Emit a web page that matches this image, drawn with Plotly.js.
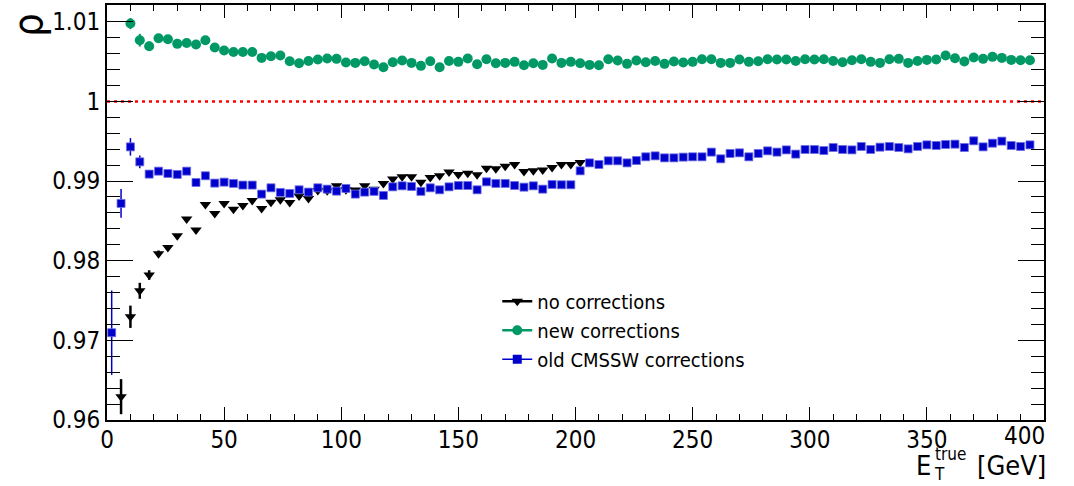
<!DOCTYPE html>
<html>
<head>
<meta charset="utf-8">
<script src="https://cdn.plot.ly/plotly-3.0.1.min.js"></script>
<style>
  html, body { margin: 0; padding: 0; background: #ffffff; }
  #chart { width: 1074px; height: 486px; }
</style>
</head>
<body>
<div id="chart"></div>
<script>
// Bin centres in E_T^true [GeV]
const binCenters = [
  2, 6, 10, 14, 18, 22, 26, 30, 34, 38, 42, 46, 50, 54, 58, 62, 66, 70, 74, 78,
  82, 86, 90, 94, 98, 102, 106, 110, 114, 118, 122, 126, 130, 134, 138, 142, 146, 150, 154, 158,
  162, 166, 170, 174, 178, 182, 186, 190, 194, 198, 202, 206, 210, 214, 218, 222, 226, 230, 234, 238,
  242, 246, 250, 254, 258, 262, 266, 270, 274, 278, 282, 286, 290, 294, 298, 302, 306, 310, 314, 318,
  322, 326, 330, 334, 338, 342, 346, 350, 354, 358, 362, 366, 370, 374, 378, 382, 386, 390, 394
];

// "no corrections" (starts at 6 GeV, ends at 202 GeV)
const noCorrX = binCenters.slice(1, 51);
const noCorr = [
  0.96293, 0.97296, 0.97622, 0.97820, 0.98088, 0.98167, 0.98313, 0.98522, 0.98384, 0.98706,
  0.98594, 0.98719, 0.98647, 0.98694, 0.98757, 0.98656, 0.98735, 0.98764, 0.98731, 0.98811,
  0.98782, 0.98880, 0.98877, 0.98940, 0.98890, 0.98886, 0.98940, 0.98898, 0.98970, 0.99024,
  0.99053, 0.99053, 0.98986, 0.99045, 0.99066, 0.99112, 0.99083, 0.99099, 0.99078, 0.99162,
  0.99153, 0.99187, 0.99208, 0.99120, 0.99128, 0.99137, 0.99170, 0.99208, 0.99208, 0.99233
];
const noCorrErr = [0.0022, 0.0014, 0.0010, 0.0006, 0.0004, 0.0003];

// "new corrections" (starts at 10 GeV)
const newCorrX = binCenters.slice(2);
const newCorr = [
  1.00977, 1.00768, 1.00693, 1.00793, 1.00780, 1.00722, 1.00734, 1.00714, 1.00768, 1.00676,
  1.00638, 1.00621, 1.00621, 1.00621, 1.00546, 1.00567, 1.00576, 1.00504, 1.00479, 1.00508,
  1.00525, 1.00538, 1.00534, 1.00488, 1.00483, 1.00504, 1.00463, 1.00429, 1.00492, 1.00513,
  1.00483, 1.00446, 1.00504, 1.00429, 1.00508, 1.00496, 1.00538, 1.00467, 1.00529, 1.00479,
  1.00483, 1.00496, 1.00454, 1.00479, 1.00458, 1.00538, 1.00483, 1.00496, 1.00479, 1.00458,
  1.00454, 1.00529, 1.00513, 1.00471, 1.00513, 1.00492, 1.00508, 1.00471, 1.00500, 1.00488,
  1.00496, 1.00529, 1.00529, 1.00483, 1.00483, 1.00525, 1.00496, 1.00504, 1.00529, 1.00525,
  1.00525, 1.00508, 1.00529, 1.00525, 1.00529, 1.00508, 1.00492, 1.00517, 1.00529, 1.00496,
  1.00483, 1.00529, 1.00534, 1.00483, 1.00508, 1.00521, 1.00525, 1.00576, 1.00542, 1.00500,
  1.00551, 1.00534, 1.00559, 1.00546, 1.00521, 1.00517, 1.00517
];
const newCorrErr = [0.0007, 0.0008, 0.0006, 0.0003];

// "old CMSSW corrections" (starts at 2 GeV)
const oldCorrX = binCenters;
const oldCorr = [
  0.97096, 0.98719, 0.99429, 0.99241, 0.99087, 0.99124, 0.99095, 0.99083, 0.99124, 0.98982,
  0.99066, 0.98974, 0.98986, 0.98970, 0.98949, 0.98949, 0.98836, 0.98915, 0.98857, 0.98844,
  0.98890, 0.98861, 0.98915, 0.98898, 0.98873, 0.98907, 0.98836, 0.98861, 0.98870, 0.98819,
  0.98927, 0.98940, 0.98932, 0.98870, 0.98915, 0.98890, 0.98927, 0.98944, 0.98944, 0.98890,
  0.98990, 0.98970, 0.98970, 0.98944, 0.98923, 0.98940, 0.98898, 0.98957, 0.98953, 0.98953,
  0.99128, 0.99228, 0.99208, 0.99254, 0.99254, 0.99228, 0.99258, 0.99304, 0.99316, 0.99291,
  0.99291, 0.99300, 0.99304, 0.99304, 0.99363, 0.99279, 0.99346, 0.99354, 0.99304, 0.99346,
  0.99379, 0.99363, 0.99391, 0.99338, 0.99396, 0.99396, 0.99383, 0.99421, 0.99396, 0.99391,
  0.99434, 0.99396, 0.99425, 0.99434, 0.99421, 0.99404, 0.99434, 0.99454, 0.99446, 0.99459,
  0.99463, 0.99421, 0.99505, 0.99429, 0.99475, 0.99501, 0.99446, 0.99434, 0.99454
];
const oldCorrErr = [0.0053, 0.0018, 0.0011, 0.0008, 0.0005, 0.0004, 0.0003, 0.0003];

const seriesNames = ["no corrections", "new corrections", "old CMSSW corrections"];
const referenceLevel = 1;
const xRange = [0, 400];
const yRange = [0.96, 1.0121];
// x tick labels; the last one ("400") is drawn pulled in from the frame edge, as in the original
const xTickVals = [0, 50, 100, 150, 200, 250, 300, 350, 400];
const xTickText = ["0", "50", "100", "150", "200", "250", "300", "350", ""];
const xLastTickLabel = "400";

const FONT = "DejaVu Sans Condensed, DejaVu Sans, sans-serif";
const cBlack = "#000000", cGreen = "#009966", cBlue = "#0000cc";

const traces = [
  {
    x: noCorrX, y: noCorr, type: "scatter", mode: "markers", showlegend: false,
    marker: { symbol: "triangle-down", size: 10, color: cBlack },
    error_y: { type: "data", array: noCorrErr, visible: true, color: cBlack, thickness: 2.5, width: 0 }
  },
  {
    x: newCorrX, y: newCorr, type: "scatter", mode: "markers", showlegend: false,
    marker: { symbol: "circle", size: 10, color: cGreen },
    error_y: { type: "data", array: newCorrErr, visible: true, color: cGreen, thickness: 2, width: 0 }
  },
  {
    x: oldCorrX, y: oldCorr, type: "scatter", mode: "markers", showlegend: false,
    marker: { symbol: "square", size: 8, color: cBlue, line: { width: 1, color: "rgba(110,110,230,0.8)" } },
    error_y: { type: "data", array: oldCorrErr, visible: true, color: cBlue, thickness: 1.5, width: 0 }
  },
  // legend entries (line + marker, as in the original legend)
  { x: [null], y: [null], type: "scatter", mode: "lines+markers", name: seriesNames[0],
    line: { color: cBlack, width: 2.5 }, marker: { symbol: "triangle-down", size: 10, color: cBlack } },
  { x: [null], y: [null], type: "scatter", mode: "lines+markers", name: seriesNames[1],
    line: { color: cGreen, width: 2.5 }, marker: { symbol: "circle", size: 10, color: cGreen } },
  { x: [null], y: [null], type: "scatter", mode: "lines+markers", name: seriesNames[2],
    line: { color: cBlue, width: 1.5 }, marker: { symbol: "square", size: 9, color: cBlue } }
];

const layout = {
  width: 1074, height: 486,
  margin: { l: 107, r: 30, t: 5, b: 66, pad: 0 },
  paper_bgcolor: "#ffffff", plot_bgcolor: "#ffffff",
  font: { family: FONT, size: 22, color: "#000000" },
  showlegend: true,
  legend: {
    x: 0.4165, y: 0.333, xanchor: "left", yanchor: "top",
    bgcolor: "rgba(0,0,0,0)", borderwidth: 0,
    font: { family: FONT, size: 20, color: "#000000" },
    itemwidth: 30, tracegroupgap: 0
  },
  xaxis: {
    range: xRange, showgrid: false, zeroline: false,
    showline: true, linecolor: "#000000", linewidth: 2, mirror: "allticks",
    ticks: "inside", ticklen: 13, tickwidth: 1, tickcolor: "#000000",
    tickmode: "array", tickvals: xTickVals, ticktext: xTickText,
    ticklabelstandoff: -3,
    minor: { ticks: "inside", ticklen: 6, tickwidth: 1, tickcolor: "#000000", dtick: 10, showgrid: false },
    tickfont: { family: FONT, size: 24, color: "#000000" }
  },
  yaxis: {
    range: yRange, showgrid: false, zeroline: false,
    showline: true, linecolor: "#000000", linewidth: 2, mirror: "allticks",
    ticks: "inside", ticklen: 26, tickwidth: 1, tickcolor: "#000000",
    tick0: 0.96, dtick: 0.01,
    minor: { ticks: "inside", ticklen: 13, tickwidth: 1, tickcolor: "#000000", dtick: 0.002, showgrid: false },
    tickfont: { family: FONT, size: 24, color: "#000000" }
  },
  shapes: [
    { type: "line", xref: "x", yref: "y", x0: xRange[0], x1: xRange[1], y0: referenceLevel, y1: referenceLevel,
      line: { color: "#ff0000", width: 2.5, dash: "3px,4px" }, layer: "below" }
  ],
  annotations: [
    { text: xLastTickLabel, xref: "paper", yref: "paper", x: 0.9795, y: -0.039, xanchor: "center", yanchor: "middle",
      showarrow: false, font: { family: FONT, size: 24, color: "#000000" } },
    { text: "ρ", xref: "paper", yref: "paper", x: -0.0845, y: 0.952, xanchor: "center", yanchor: "middle",
      textangle: -90, showarrow: false, font: { family: FONT, size: 41, color: "#000000" } },
    { text: "E", xref: "paper", yref: "paper", x: 0.8815, y: -0.109, xanchor: "right", yanchor: "middle",
      showarrow: false, font: { family: FONT, size: 27, color: "#000000" } },
    { text: "true", xref: "paper", yref: "paper", x: 0.8815, y: -0.081, xanchor: "left", yanchor: "middle",
      showarrow: false, font: { family: FONT, size: 17, color: "#000000" } },
    { text: "T", xref: "paper", yref: "paper", x: 0.8800, y: -0.131, xanchor: "left", yanchor: "middle",
      showarrow: false, font: { family: FONT, size: 17, color: "#000000" } },
    { text: "[GeV]", xref: "paper", yref: "paper", x: 1.0043, y: -0.109, xanchor: "right", yanchor: "middle",
      showarrow: false, font: { family: FONT, size: 27, color: "#000000" } }
  ]
};

Plotly.newPlot("chart", traces, layout, { displayModeBar: false, staticPlot: true });
</script>
</body>
</html>
